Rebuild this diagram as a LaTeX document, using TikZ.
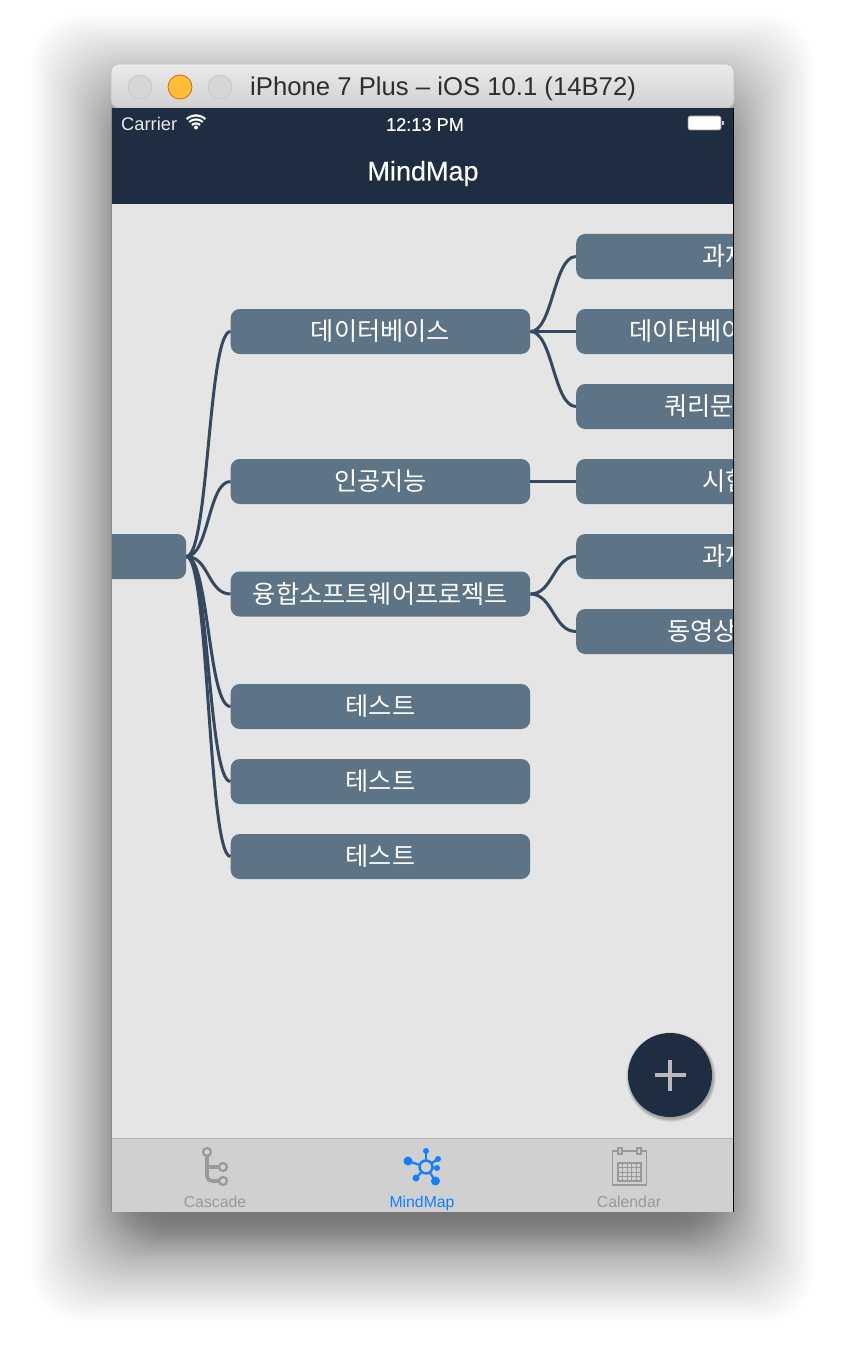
\documentclass[tikz,border=0pt]{standalone}
\usepackage{fontspec}
\setmainfont{Liberation Sans}
\newfontfamily\kr{Noto Sans CJK KR}
\newfontfamily\semi[FakeBold=0.35]{Liberation Sans}
\definecolor{navy}{HTML}{1E2D42}
\definecolor{boxc}{HTML}{5D7386}
\definecolor{linkc}{HTML}{34495F}
\definecolor{canvasc}{HTML}{E5E5E5}
\definecolor{tabc}{HTML}{D0D0D0}
\definecolor{tabline}{HTML}{B2B2B2}
\definecolor{grayicon}{HTML}{999999}
\definecolor{blueicon}{HTML}{147EFB}
\definecolor{amber}{HTML}{FFBD38}
\tikzset{
 mbox/.style={rectangle,fill=boxc,rounded corners=9pt,minimum width=299.5pt,minimum height=45pt,inner sep=0pt,anchor=west},
 mlabel/.style={inner sep=0pt,text=white,font=\kr\fontsize{25.2}{25}\selectfont},
 rtext/.style={mlabel,anchor=west},
 link/.style={draw=linkc,line width=3pt},
 light/.style={circle,minimum size=24pt,inner sep=0pt,draw=black!22,line width=.7pt},
 tabtext/.style={inner sep=0pt,anchor=base,font=\fontsize{15.8}{16}\selectfont},
 graystroke/.style={draw=grayicon,line width=1.3pt},
}
\begin{document}
\begin{tikzpicture}[x=1pt,y=-1pt]
\useasboundingbox (0,0) rectangle (846,1372);
\fill[white] (0,0) rectangle (846,1372);
% window shadow
\foreach \k in {-50,-49,...,50}{
  \pgfmathsetmacro{\i}{80*(.6*\k/50+.4*(\k/50)*abs(\k/50))}
  \fill[black,opacity=.0075,rounded corners=50pt] (111+\i,94+\i) rectangle (734-\i,1242-\i);
}
% title bar
\path[rounded corners=8pt,top color=black!8,bottom color=black!18,draw=black!25,line width=.6pt]
  (111,108) -- (111,64) -- (734,64) -- (734,108) -- cycle;
\node[light,fill=black!16] (l1) at (140,87) {};
\node[light,draw=orange!80!black,fill=amber] (l2) at (180,87) {};
\node[light,fill=black!16] (l3) at (220,87) {};
\node[anchor=west,inner sep=0pt,text=black!82,font=\fontsize{25.7}{26}\selectfont] (wtitle) at (250,89) {iPhone 7 Plus – iOS 10.1 (14B72)};
% nav bar
\fill[navy] (111,108) rectangle (734,204);
\node[anchor=west,inner sep=0pt,text=white!92!black,font=\fontsize{18.3}{18}\selectfont] (carrier) at (121,124) {Carrier};
\fill[white] (196,127.5) circle (2);
\foreach \r in {6,10,14}{
  \draw[white,line width=2.2pt] plot[domain=-132:-48,samples=12] ({196+\r*cos(\x)},{129.5+\r*sin(\x)});
}
\node[text=white,inner sep=0pt,font=\semi\fontsize{18.2}{18}\selectfont] (clock) at (425,124.5) {12:13 PM};
\fill[white,rounded corners=2pt,draw=black!45,line width=.6pt] (688,116) rectangle (721,130);
\fill[white!80!black] (722,121) rectangle (724,125);
\node[text=white,inner sep=0pt,font=\semi\fontsize{27}{27}\selectfont] (navtitle) at (423,173.5) {MindMap};
% canvas
\fill[canvasc] (111,204) rectangle (733.5,1138);
\begin{scope}
\clip (111,204) rectangle (733,1138);
\node[mbox,minimum width=110pt] (root) at (76,556.5) {};
\node[mbox] (a1) at (230.5,331.5) {};
\node[mbox] (a2) at (230.5,481.5) {};
\node[mbox] (a3) at (230.5,594) {};
\node[mbox] (a4) at (230.5,706.5) {};
\node[mbox] (a5) at (230.5,781.5) {};
\node[mbox] (a6) at (230.5,856.5) {};
\node[mbox] (b1) at (576,256.5) {};
\node[mbox] (b2) at (576,331.5) {};
\node[mbox] (b3) at (576,406.5) {};
\node[mbox] (b4) at (576,481.5) {};
\node[mbox] (b5) at (576,556.5) {};
\node[mbox] (b6) at (576,631.5) {};
\node[mlabel] (s1) at (380.5,331) {데이터베이스};
\node[mlabel] (s2) at (380.5,481) {인공지능};
\node[mlabel] (s3) at (380.5,593.5) {융합소프트웨어프로젝트};
\node[mlabel] (s4) at (380.5,706) {테스트};
\node[mlabel] (s5) at (380.5,781) {테스트};
\node[mlabel] (s6) at (380.5,856) {테스트};
\node[rtext] (t1) at (702,256) {과제};
\node[rtext] (t2) at (629,331) {데이터베이};
\node[rtext] (t3) at (664,406) {쿼리문};
\node[rtext] (t4) at (702,481) {시험};
\node[rtext] (t5) at (702,556) {과제};
\node[rtext] (t6) at (667,631) {동영상};
\foreach \c in {a1,a2,a3,a4,a5,a6}{
  \draw[link] (root.east) .. controls +(22.5,0) and +(-22.5,0) .. (\c.west);
}
\foreach \p/\c in {a1/b1,a1/b2,a1/b3,a2/b4,a3/b5,a3/b6}{
  \draw[link] (\p.east) .. controls +(22.5,0) and +(-22.5,0) .. (\c.west);
}
\end{scope}
% FAB
\foreach \r in {45,44.5,44,43.5,43,42.5,42}{
  \fill[black,opacity=.045] (671,1077) circle (\r);
}
\node[circle,fill=navy,minimum size=84pt,inner sep=0pt] (fab) at (670,1075) {};
\draw[black!27,line width=3.2pt] (654.5,1075) -- (685.5,1075) (670,1059.5) -- (670,1090.5);
% tab bar
\fill[tabc] (111,1138) rectangle (733.5,1212);
\draw[tabline,line width=1pt] (111,1138.5) -- (733.5,1138.5);
\node[tabtext,text=grayicon] (tc1) at (215,1207) {Cascade};
\node[tabtext,text=blueicon] (tc2) at (422,1207) {MindMap};
\node[tabtext,text=grayicon] (tc3) at (629,1207) {Calendar};
% cascade icon
\draw[grayicon,line width=3.6pt,rounded corners=5pt] (207,1156) -- (207,1181) -- (219,1181);
\draw[grayicon,line width=3.6pt] (207,1167) -- (219,1167);
\foreach \q in {(207,1152),(223,1167),(223,1181)}{
  \draw[grayicon,line width=2.2pt,fill=tabc] \q circle (4);
}
% mindmap icon
\coordinate (hub) at (426,1167);
\foreach \x/\y/\r in {426/1151/3,438/1159/3,437/1168/3,435.5/1181/4.5,416/1178/3.5,408/1161/4.5}{
  \draw[blueicon,line width=2.2pt] (hub) -- (\x,\y);
  \fill[blueicon] (\x,\y) circle (\r);
}
\draw[blueicon,line width=2.4pt,fill=tabc] (hub) circle (6.5);
% calendar icon
\draw[graystroke,line width=1.5pt] (612.5,1151) rectangle (646.5,1185);
\draw[graystroke,fill=tabc] (618,1148) rectangle (622,1154);
\draw[graystroke,fill=tabc] (637,1148) rectangle (641,1154);
\draw[graystroke] (618,1163) rectangle (641,1181);
\foreach \x in {622.6,627.2,631.8,636.4}{ \draw[grayicon,line width=.9pt] (\x,1163) -- (\x,1181); }
\foreach \y in {1167.5,1172,1176.5}{ \draw[grayicon,line width=.9pt] (618,\y) -- (641,\y); }
% window edges
\draw[black,line width=1pt] (733.7,108) -- (733.7,1212);
\draw[black!45,line width=.8pt] (111.4,108) -- (111.4,1212);
\end{tikzpicture}
\end{document}
